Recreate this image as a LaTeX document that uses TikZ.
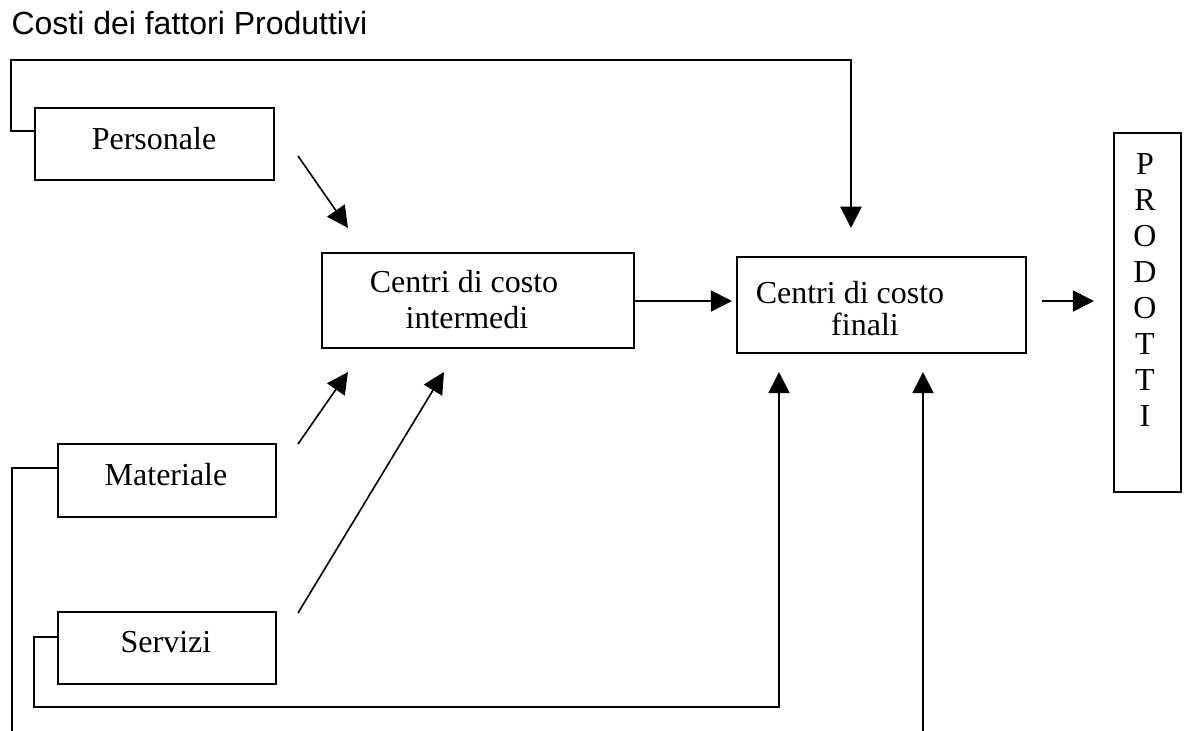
\documentclass[tikz,border=0pt]{standalone}
\usepackage{fontspec}
\setmainfont{Liberation Serif}
\newfontfamily\arialf{Liberation Sans}
\usetikzlibrary{arrows.meta,fit}
\begin{document}
\begin{tikzpicture}[x=0.4pt,y=-0.4pt,
  box/.style={draw, line width=0.8pt, inner sep=0pt},
  conn/.style={line width=0.65pt},
  arr/.style={conn,-{Triangle[length=8.5pt,width=8.5pt]}},
  lbl/.style={anchor=base, font=\fontsize{12.8}{14}\selectfont, inner sep=0pt}]
\useasboundingbox[fill=white] (0,0) rectangle (1188,731);
\node[anchor=base west, font=\arialf\fontsize{12.8}{14}\selectfont, inner sep=0pt] (title) at (11,35) {Costi dei fattori Produttivi};

% boxes
\node[box, fit={(35,108) (274,180)}] (pers) {};
\node[box, fit={(58,444) (276,517)}] (mat) {};
\node[box, fit={(58,612) (276,684)}] (serv) {};
\node[box, fit={(322,253) (634,348)}] (inter) {};
\node[box, fit={(737,257) (1026,353)}] (fin) {};
\node[box, fit={(1114,133) (1181,492)}] (prod) {};

% texts
\node[lbl] (perst) at (154,150) {Personale};
\node[lbl] (matt) at (166,486) {Materiale};
\node[lbl] (servt) at (166,653) {Servizi};
\node[lbl] (intert1) at (464,293) {Centri di costo};
\node[lbl] (intert2) at (467,329) {intermedi};
\node[lbl] (fint1) at (850,304) {Centri di costo};
\node[lbl] (fint2) at (865,336) {finali};
\foreach \l [count=\i from 0] in {P,R,O,D,O,T,T,I} {
  \node[lbl] (pl\i) at (1145,{175+36*\i}) {\l};
}

% connector coordinates
\coordinate (persL) at (35,131);
\coordinate (topTip) at (851,228);
\coordinate (matL) at (58,468);
\coordinate (matBot) at (12,731);
\coordinate (servL) at (58,637);
\coordinate (servTip) at (779,372);
\coordinate (botSrc) at (923,731);
\coordinate (botTip) at (923,372);
\coordinate (pA) at (298,156);
\coordinate (pB) at (348,228);
\coordinate (mA) at (298,444);
\coordinate (mB) at (348,372);
\coordinate (sA) at (298,613);
\coordinate (sB) at (444,372);
\coordinate (ifA) at (634,301);
\coordinate (ifB) at (732,301);
\coordinate (fpA) at (1042,301);
\coordinate (fpB) at (1094,301);

% connectors
\draw[arr] (persL) -- (11,131) -- (11,60) -- (851,60) -- (topTip);
\draw[conn] (matL) -- (12,468) -- (matBot);
\draw[arr] (servL) -- (34,637) -- (34,707) -- (779,707) -- (servTip);
\draw[arr] (botSrc) -- (botTip);
\draw[arr] (pA) -- (pB);
\draw[arr] (mA) -- (mB);
\draw[arr] (sA) -- (sB);
\draw[arr] (ifA) -- (ifB);
\draw[arr] (fpA) -- (fpB);
\end{tikzpicture}
\end{document}
